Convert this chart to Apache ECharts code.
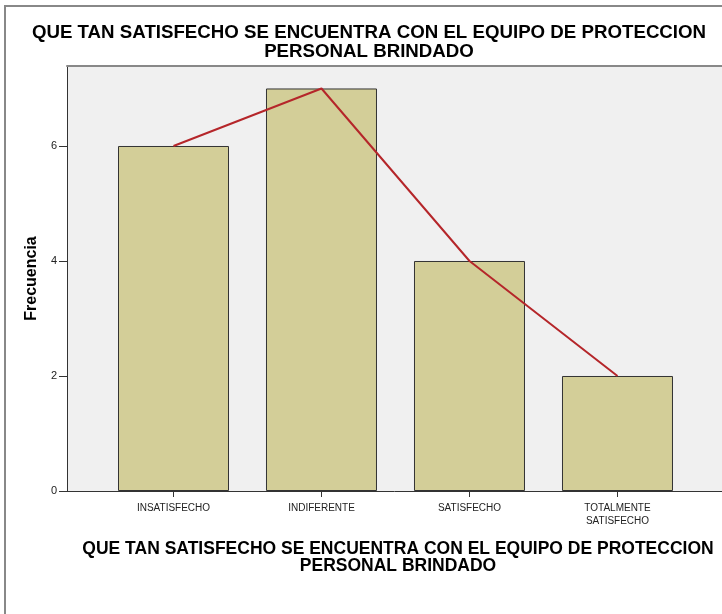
<!DOCTYPE html>
<html>
<head>
<meta charset="utf-8">
<script src="https://cdn.jsdelivr.net/npm/echarts@6/dist/echarts.min.js"></script>
<style>
  html, body { margin: 0; padding: 0; background: #fff; }
  #chart { width: 722px; height: 614px; }
</style>
</head>
<body>
<div id="chart"></div>
<script>
const titleText = 'QUE TAN SATISFECHO SE ENCUENTRA CON EL EQUIPO DE PROTECCION\nPERSONAL BRINDADO'
const categories = ['INSATISFECHO', 'INDIFERENTE', 'SATISFECHO', 'TOTALMENTE\nSATISFECHO']
const frecuencia = [6, 7, 4, 2]
const yTicks = [0, 2, 4, 6]

const chart = echarts.init(document.getElementById('chart'))

// x axis is a value axis so the plot area can start left of the first band
const points = frecuencia.map((v, i) => [i, v])
const catIndex = categories.map((c, i) => i)

const option = {
  animation: false,
  graphic: [
    {
      type: 'rect',
      shape: { x: 5, y: 6, width: 800, height: 700 },
      style: { fill: 'none', stroke: '#888', lineWidth: 2 },
      silent: true
    }
  ],
  title: [
    {
      text: titleText,
      left: 364,
      top: 19,
      textAlign: 'center',
      textStyle: { fontFamily: 'Liberation Sans', fontSize: 18.7, fontWeight: 'bold', color: '#000', lineHeight: 18.5 }
    },
    {
      text: titleText,
      left: 393,
      top: 536,
      textAlign: 'center',
      textStyle: { fontFamily: 'Liberation Sans', fontSize: 17.5, fontWeight: 'bold', color: '#000', lineHeight: 17 }
    }
  ],
  grid: {
    left: 67,
    top: 66,
    right: 0,
    bottom: 123,
    show: true,
    backgroundColor: '#f0f0f0',
    borderWidth: 0
  },
  xAxis: [
    {
      type: 'value',
      min: -0.7196,
      max: 3.7061,
      splitLine: { show: false },
      axisLine: { show: true, onZero: false, lineStyle: { color: '#333', width: 1 } },
      axisTick: {
        show: true,
        customValues: catIndex,
        length: 6,
        lineStyle: { color: '#333' }
      },
      axisLabel: {
        customValues: catIndex,
        formatter: v => categories[Math.round(v)],
        fontFamily: 'Liberation Sans',
        fontSize: 10,
        color: '#222',
        lineHeight: 13,
        margin: 11
      }
    },
    {
      // top frame of the plot
      type: 'value',
      position: 'top',
      min: -0.7196,
      max: 3.7061,
      splitLine: { show: false },
      axisLine: { show: true, onZero: false, lineStyle: { color: '#888', width: 2 } },
      axisTick: { show: false },
      axisLabel: { show: false }
    }
  ],
  yAxis: {
    type: 'value',
    min: 0,
    max: 7.391,
    name: 'Frecuencia',
    nameLocation: 'middle',
    nameGap: 26,
    nameTextStyle: { fontFamily: 'Liberation Sans', fontSize: 16, fontWeight: 'bold', color: '#000' },
    splitLine: { show: false },
    axisLine: { show: true, onZero: false, lineStyle: { color: '#333', width: 1 } },
    axisTick: {
      show: true,
      customValues: yTicks,
      length: 8,
      lineStyle: { color: '#333' }
    },
    axisLabel: {
      customValues: yTicks,
      fontFamily: 'Liberation Sans',
      fontSize: 11,
      color: '#222',
      margin: 10
    }
  },
  series: [
    {
      type: 'bar',
      data: points,
      barWidth: 111,
      itemStyle: { color: '#d3ce98', borderColor: '#333', borderWidth: 1 }
    },
    {
      type: 'line',
      data: points,
      symbol: 'none',
      lineStyle: { color: '#b5262a', width: 2 },
      z: 5
    }
  ]
}

chart.setOption(option)
</script>
</body>
</html>
